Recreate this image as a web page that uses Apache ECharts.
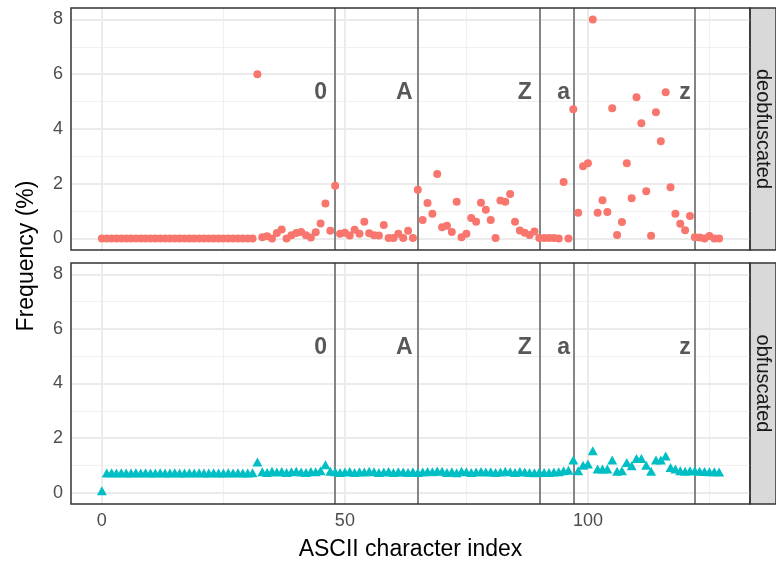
<!DOCTYPE html>
<html>
<head>
<meta charset="utf-8">
<script src="https://cdn.jsdelivr.net/npm/echarts@6/dist/echarts.min.js"></script>
<style>html,body{margin:0;padding:0;background:#fff}#c{width:776px;height:564px}</style>
</head>
<body>
<div id="c"></div>
<script>
// ---- data ----
const panels = ['deobfuscated', 'obfuscated'];
const deobfuscated = [
  0,0,0,0,0,0,0,0,0,0,0,0,0,0,0,0,0,0,0,0,0,0,0,0,0,0,0,0,0,0,0,0,
  6.0,0.05,0.08,0.0,0.2,0.33,0.0,0.12,0.2,0.24,0.12,0.04,0.23,0.55,1.28,0.28,
  1.93,0.17,0.21,0.11,0.32,0.17,0.61,0.19,0.12,0.11,0.49,0.02,0.02,0.17,0.02,0.28,
  0.02,1.78,0.68,1.3,0.9,2.36,0.41,0.47,0.24,1.34,0.05,0.17,0.75,0.61,1.31,1.05,
  0.68,0.02,1.39,1.34,1.63,0.61,0.29,0.21,0.13,0.26,0.02,0.02,0.02,0.02,0.0,2.06,
  0.0,4.72,0.94,2.64,2.75,8.0,0.94,1.4,0.97,4.76,0.13,0.6,2.75,1.47,5.16,4.21,
  1.73,0.1,4.61,3.55,5.34,1.87,0.9,0.54,0.3,0.82,0.05,0.04,0.0,0.09,0.0,0.0
];
const obfuscated = [
  0.07,0.72,0.73,0.72,0.73,0.72,0.72,0.73,0.72,0.73,0.72,0.72,0.73,0.72,0.72,0.73,
  0.72,0.72,0.73,0.72,0.73,0.72,0.72,0.73,0.72,0.72,0.73,0.72,0.73,0.72,0.72,0.73,
  1.12,0.76,0.74,0.78,0.75,0.77,0.74,0.76,0.78,0.75,0.74,0.77,0.76,0.80,1.02,0.78,
  0.76,0.74,0.75,0.77,0.74,0.76,0.75,0.78,0.76,0.74,0.75,0.77,0.74,0.76,0.75,0.74,
  0.76,0.74,0.75,0.77,0.76,0.79,0.78,0.74,0.76,0.73,0.78,0.76,0.74,0.75,0.77,0.75,
  0.76,0.74,0.75,0.78,0.76,0.74,0.77,0.75,0.74,0.73,0.75,0.74,0.74,0.75,0.76,0.80,
  0.82,1.19,0.8,1.0,1.05,1.53,0.86,0.86,0.86,1.19,0.78,0.8,1.1,0.98,1.25,1.25,
  1.0,0.78,1.19,1.19,1.34,0.92,0.86,0.8,0.78,0.8,0.8,0.78,0.77,0.76,0.76,0.75
];
const markerIndex = [48, 65, 90, 97, 122];
const markerText  = ['0', 'A', 'Z', 'a', 'z'];
const markerLabelX = [45, 62.2, 87, 95, 120];
const markerLabelY = 5.32;
const xTicks = [0, 50, 100];
const xMinor = [25, 75, 125];
const yTicks = [0, 2, 4, 6, 8];
const yMinor = [1, 3, 5, 7];
const xRange = [-6.35, 133.35];
const yRange = [-0.42, 8.42];

// ---- chart ----
const chart = echarts.init(document.getElementById('c'), null, {renderer: 'canvas'});
const FONT = 'Liberation Sans';
const grids = [
  {left: 71, right: 26, top: 8, height: 242},
  {left: 71, right: 26, top: 263, height: 241}
];

function gridLines(gi) {
  const maj = {color: '#EBEBEB', width: 2, type: 'solid'};
  const min = {color: '#F0F0F0', width: 1.2, type: 'solid'};
  const d = [];
  xMinor.forEach(v => d.push({xAxis: v, lineStyle: min}));
  yMinor.forEach(v => d.push({yAxis: v, lineStyle: min}));
  xTicks.forEach(v => d.push({xAxis: v, lineStyle: maj}));
  yTicks.forEach(v => d.push({yAxis: v, lineStyle: maj}));
  return {
    type: 'scatter', xAxisIndex: gi, yAxisIndex: gi, data: [], z: 1, silent: true,
    markLine: {z: 1, silent: true, symbol: ['none', 'none'], label: {show: false}, animation: false, data: d}
  };
}
function charLines(gi) {
  return {
    type: 'scatter', xAxisIndex: gi, yAxisIndex: gi, data: [], z: 2, silent: true,
    markLine: {z: 2, silent: true, symbol: ['none', 'none'], label: {show: false}, animation: false,
      lineStyle: {color: '#858585', width: 2, type: 'solid'},
      data: markerIndex.map(v => ({xAxis: v}))}
  };
}
function charLabels(gi) {
  return {
    type: 'scatter', xAxisIndex: gi, yAxisIndex: gi, z: 5, silent: true, symbolSize: 1,
    itemStyle: {color: 'rgba(0,0,0,0)'},
    data: markerText.map((t, i) => ({name: t, value: [markerLabelX[i], markerLabelY]})),
    label: {show: true, position: 'inside', formatter: '{b}', color: '#2E2E2E',
      fontFamily: FONT, fontWeight: 'bold', fontSize: 23}
  };
}

const xAxes = [0, 1].map(i => ({
  type: 'value', gridIndex: i, min: xRange[0], max: xRange[1],
  splitLine: {show: false}, axisLine: {show: false},
  axisTick: {show: i === 1, customValues: xTicks, length: 4, lineStyle: {color: '#333333', width: 1.5}},
  axisLabel: {show: i === 1, customValues: xTicks, color: '#4D4D4D', fontFamily: FONT, fontSize: 18, margin: 8},
  name: i === 1 ? 'ASCII character index' : '', nameLocation: 'middle', nameGap: 34,
  nameTextStyle: {color: '#000', fontFamily: FONT, fontSize: 23}
}));
const yAxes = [0, 1].map(i => ({
  type: 'value', gridIndex: i, min: yRange[0], max: yRange[1],
  splitLine: {show: false}, axisLine: {show: false},
  axisTick: {show: true, customValues: yTicks, length: 4, lineStyle: {color: '#333333', width: 1.5}},
  axisLabel: {customValues: yTicks, color: '#4D4D4D', fontFamily: FONT, fontSize: 18, margin: 8}
}));

chart.setOption({
  animation: false,
  backgroundColor: '#ffffff',
  grid: grids.map(g => Object.assign({show: true, borderColor: '#333333', borderWidth: 1.5, backgroundColor: 'transparent', z: 10}, g)),
  xAxis: xAxes,
  yAxis: yAxes,
  graphic: [
    {type: 'rect', shape: {x: 750, y: 8, width: 26, height: 242}, style: {fill: '#D9D9D9', stroke: '#333333', lineWidth: 1.5}},
    {type: 'rect', shape: {x: 750, y: 263, width: 26, height: 241}, style: {fill: '#D9D9D9', stroke: '#333333', lineWidth: 1.5}},
    {type: 'text', x: 763, y: 129, rotation: -Math.PI / 2,
      style: {text: panels[0], fill: '#1A1A1A', font: '20px "Liberation Sans"', textAlign: 'center', textVerticalAlign: 'middle'}},
    {type: 'text', x: 763, y: 383.5, rotation: -Math.PI / 2,
      style: {text: panels[1], fill: '#1A1A1A', font: '20px "Liberation Sans"', textAlign: 'center', textVerticalAlign: 'middle'}},
    {type: 'text', x: 27, y: 256, rotation: Math.PI / 2,
      style: {text: 'Frequency (%)', fill: '#000', font: '23px "Liberation Sans"', textAlign: 'center', textVerticalAlign: 'middle'}}
  ],
  series: [
    gridLines(0), gridLines(1), charLines(0), charLines(1),
    {type: 'scatter', xAxisIndex: 0, yAxisIndex: 0, z: 3, symbol: 'circle', symbolSize: 8,
      itemStyle: {color: '#F8766D', opacity: 1},
      data: deobfuscated.map((v, i) => [i, v])},
    {type: 'scatter', xAxisIndex: 1, yAxisIndex: 1, z: 3, symbol: 'triangle', symbolSize: [10, 9],
      itemStyle: {color: '#00BFC4', opacity: 1},
      data: obfuscated.map((v, i) => [i, v])},
    charLabels(0), charLabels(1)
  ]
});
</script>
</body>
</html>
